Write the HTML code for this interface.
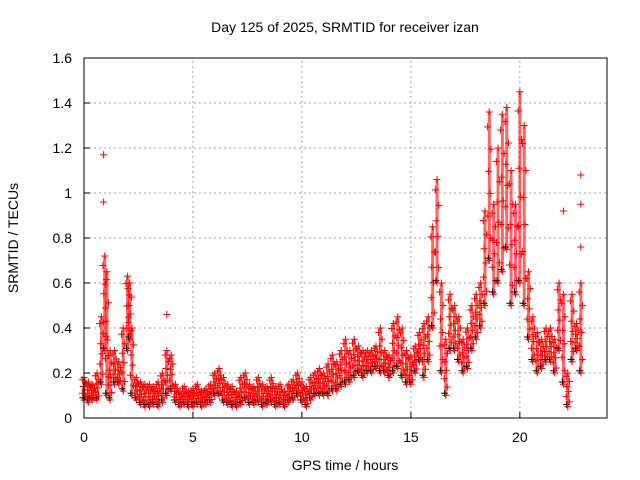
<!DOCTYPE html>
<html><head><meta charset="utf-8"><style>
body{margin:0;background:#fff;}
svg{display:block;font-family:"Liberation Sans",sans-serif;}
</style></head><body>
<svg id="chart" width="640" height="480">
<rect width="640" height="480" fill="#fff"/>
<text x="345" y="32" font-size="14" text-anchor="middle">Day 125 of 2025, SRMTID for receiver izan</text>
<text x="345" y="470" font-size="14" text-anchor="middle">GPS time / hours</text>
<text transform="translate(18,238) rotate(-90)" font-size="14" text-anchor="middle">SRMTID / TECUs</text>
<g id="grid"></g><g id="marks"></g><g id="axes"></g>
</svg>
<script>
const xTicks=[0,5,10,15,20];
const yTicks=[0,0.2,0.4,0.6,0.8,1,1.2,1.4,1.6];
const yTickLabels=["0","0.2","0.4","0.6","0.8","1","1.2","1.4","1.6"];
const times=[0,0.2,0.4,0.6,0.8,0.95,1.05,1.2,1.4,1.6,1.8,2.0,2.1,2.2,2.4,2.6,2.8,3.0,3.2,3.4,3.6,3.8,4.0,4.2,4.4,4.6,4.8,5.0,5.2,5.4,5.6,5.8,6.0,6.2,6.4,6.6,6.8,7.0,7.2,7.4,7.6,7.8,8.0,8.2,8.4,8.6,8.8,9.0,9.2,9.4,9.6,9.8,10.0,10.2,10.4,10.6,10.8,11.0,11.2,11.4,11.6,11.8,12.0,12.2,12.4,12.6,12.8,13.0,13.2,13.4,13.6,13.8,14.0,14.2,14.4,14.6,14.8,15.0,15.2,15.4,15.6,15.8,16.0,16.2,16.4,16.6,16.8,17.0,17.2,17.4,17.6,17.8,18.0,18.2,18.4,18.6,18.8,19.0,19.2,19.4,19.6,19.8,20.0,20.2,20.4,20.6,20.8,21.0,21.2,21.4,21.6,21.8,22.0,22.2,22.4,22.6,22.8];
const lowVals=[.08,.07,.08,.08,.15,.3,.1,.08,.15,.15,.12,.3,.35,.1,.08,.06,.05,.05,.06,.05,.07,.1,.12,.07,.05,.06,.05,.05,.06,.05,.06,.07,.1,.1,.07,.06,.05,.05,.06,.08,.06,.06,.07,.05,.06,.07,.05,.06,.05,.07,.08,.1,.07,.05,.08,.1,.1,.1,.1,.12,.12,.14,.15,.16,.18,.2,.18,.2,.2,.22,.2,.2,.18,.2,.22,.18,.15,.15,.2,.25,.18,.25,.4,.6,.2,.1,.3,.3,.25,.2,.22,.3,.35,.4,.5,.7,.55,.6,.65,.75,.5,.55,.6,.5,.35,.25,.2,.22,.25,.25,.2,.3,.15,.05,.25,.3,.2];
const highVals=[.18,.16,.15,.2,.45,.72,.65,.3,.3,.25,.4,.63,.6,.4,.18,.16,.15,.15,.14,.16,.2,.3,.28,.15,.12,.14,.12,.13,.15,.12,.13,.15,.2,.22,.18,.15,.14,.12,.18,.2,.15,.14,.18,.15,.14,.18,.14,.15,.12,.15,.17,.2,.16,.14,.18,.2,.22,.2,.24,.28,.25,.3,.35,.3,.35,.32,.3,.3,.3,.32,.4,.3,.28,.42,.45,.4,.3,.28,.32,.38,.42,.45,.85,1.06,.6,.35,.55,.5,.45,.35,.4,.5,.55,.6,.92,1.36,.95,1.2,1.35,1.38,1.1,.95,1.45,1.3,.65,.45,.38,.35,.4,.4,.35,.6,.55,.2,.55,.42,.6];
const outlierTimes=[0.9,0.9,3.8,22.0,22.8,22.8,22.8];
const outlierVals=[1.17,0.96,0.46,0.92,1.08,0.95,0.76];
const NS="http://www.w3.org/2000/svg";
const X0=84,X1=607,Y0=418,Y1=58,XMAX=24,YMAX=1.6;
function sx(t){return X0+t/XMAX*(X1-X0);}
function sy(v){return Y0-v/YMAX*(Y0-Y1);}
function mk(tag,attrs,parent){const e=document.createElementNS(NS,tag);for(const k in attrs)e.setAttribute(k,attrs[k]);parent.appendChild(e);return e;}
const grid=document.getElementById('grid'),marks=document.getElementById('marks'),axes=document.getElementById('axes');
xTicks.forEach((t,i)=>{
 if(i>0){const g=mk('line',{x1:sx(t),x2:sx(t),y1:Y0,y2:Y1,stroke:'#a0a0a0','stroke-dasharray':'2,3'},grid);
 
 }
 const tk=mk('line',{x1:sx(t),x2:sx(t),y1:Y0,y2:Y0-6,stroke:'#000'},axes);
 
 
 const l=mk('text',{x:sx(t),y:Y0+24,'font-size':14,'text-anchor':'middle'},axes);l.textContent=t;
 
 
});
yTicks.forEach((v,i)=>{
 if(i>0&&i<yTicks.length-1){const g=mk('line',{x1:X0,x2:X1,y1:sy(v),y2:sy(v),stroke:'#a0a0a0','stroke-dasharray':'2,3'},grid);
 
 }
 const tk=mk('line',{x1:X0,x2:X0+6,y1:sy(v),y2:sy(v),stroke:'#000'},axes);
 
 
 const l=mk('text',{x:X0-12,y:sy(v)+5,'font-size':14,'text-anchor':'end'},axes);l.textContent=yTickLabels[i];
 
 
});
const fr=mk('rect',{x:X0,y:Y1,width:X1-X0,height:Y0-Y1,fill:'none',stroke:'#000'},axes);


function plus(t,v,c){const x=sx(t),y=sy(v);
 const p=mk('path',{d:`M${x-3.5},${y}h7M${x},${y-3.5}v7`,stroke:c,'stroke-width':1},marks);
 
 }
const fracs=[0,0.15,0.3,0.45,0.6,0.75,0.9,1];
const offs=[0,0.07,-0.07,0.04,-0.04,0.08,-0.08,0];
times.forEach((t,i)=>{
 const lo=lowVals[i],hi=highVals[i];
 const b=mk('line',{x1:sx(t),x2:sx(t),y1:sy(lo),y2:sy(hi),stroke:'#f00','stroke-width':3,'stroke-opacity':0.6},marks);
 
 
 plus(t-0.05,lo+0.01,'#000');
 fracs.forEach((f,k)=>plus(t+offs[k],lo+(hi-lo)*f,'#f00'));
});
outlierTimes.forEach((t,i)=>plus(t,outlierVals[i],'#f00'));
</script>
</body></html>
